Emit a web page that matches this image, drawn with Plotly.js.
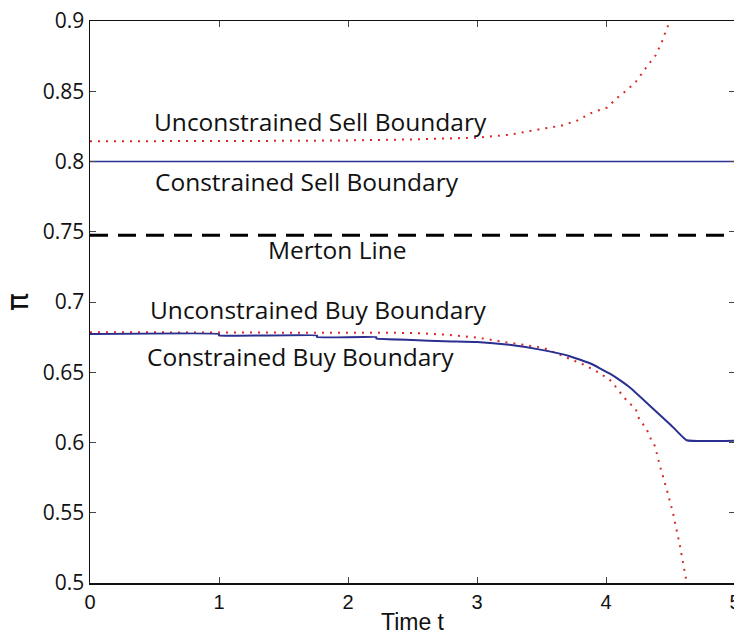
<!DOCTYPE html>
<html>
<head>
<meta charset="utf-8">
<script src="https://cdn.plot.ly/plotly-3.0.1.min.js"></script>
<style>
  html, body { margin: 0; padding: 0; overflow: hidden; background: #fff; }
  #chart { width: 750px; height: 637px; }
</style>
</head>
<body>
<div id="chart"></div>
<script>
// Time grid and boundary values (fraction of wealth in the risky asset, pi)
const sellUnconT = [0, 0.5, 1, 1.5, 2, 2.5, 3, 3.25, 3.5, 3.67, 3.78, 3.9, 4.01, 4.08, 4.16, 4.23, 4.32, 4.385, 4.43, 4.47, 4.5];
const sellUnconPi = [0.8144, 0.8144, 0.8145, 0.8147, 0.815, 0.8157, 0.817, 0.819, 0.8232, 0.8258, 0.8293, 0.8352, 0.8384, 0.8448, 0.8507, 0.8566, 0.868, 0.8756, 0.8843, 0.8946, 0.9];

const sellConT = [0, 5];
const sellConPi = [0.8, 0.8];

const mertonT = [0, 5];
const mertonPi = [0.7475, 0.7475];

const buyUnconT = [0, 1, 2, 2.25, 2.5, 2.75, 3, 3.25, 3.51, 3.67, 3.82, 3.95, 4.04, 4.1, 4.165, 4.23, 4.26, 4.31, 4.35, 4.38, 4.42, 4.47, 4.52, 4.57, 4.62, 4.635];
const buyUnconPi = [0.6785, 0.6785, 0.6783, 0.6782, 0.678, 0.6768, 0.6747, 0.671, 0.6675, 0.6614, 0.6557, 0.6495, 0.6438, 0.6367, 0.6293, 0.6241, 0.6158, 0.6106, 0.602, 0.5973, 0.5826, 0.567, 0.5496, 0.528, 0.503, 0.5];

const buyConT = [0, 1, 1, 1.76, 1.76, 2.22, 2.22, 2.5, 2.75, 3, 3.25, 3.49, 3.72, 3.88, 4.03, 4.11, 4.19, 4.34, 4.5, 4.625, 5];
const buyConPi = [0.6772, 0.6772, 0.6762, 0.6762, 0.675, 0.675, 0.674, 0.673, 0.672, 0.6715, 0.6695, 0.6661, 0.6614, 0.6562, 0.649, 0.6442, 0.6388, 0.6262, 0.6127, 0.6016, 0.6013];

const xTicks = [0, 1, 2, 3, 4, 5];
const yTicks = [0.5, 0.55, 0.6, 0.65, 0.7, 0.75, 0.8, 0.85, 0.9];

const labelText = ['Unconstrained Sell Boundary', 'Constrained Sell Boundary', 'Merton Line',
                   'Unconstrained Buy Boundary', 'Constrained Buy Boundary'];
const labelT = [1.785, 1.68, 1.915, 1.77, 1.63];
const labelPi = [0.8285, 0.7855, 0.7375, 0.6945, 0.661];

const blue = '#2b2f8f';
const red = '#d42a2a';

const traces = [
  { x: sellUnconT, y: sellUnconPi, mode: 'lines', line: { color: red, width: 2, dash: '2px,6px' } },
  { x: sellConT, y: sellConPi, mode: 'lines', line: { color: blue, width: 1.6 } },
  { x: mertonT, y: mertonPi, mode: 'lines', line: { color: '#000', width: 3.2, dash: '18px,10px' } },
  { x: buyUnconT, y: buyUnconPi, mode: 'lines', line: { color: red, width: 2, dash: '2px,6px' } },
  { x: buyConT, y: buyConPi, mode: 'lines', line: { color: blue, width: 2, shape: 'spline', smoothing: 0.3 } }
];

const annotations = labelText.map((t, i) => ({
  x: labelT[i], y: labelPi[i], xref: 'x', yref: 'y', text: t, showarrow: false,
  xanchor: 'center', yanchor: 'middle',
  font: { family: 'Open Sans, sans-serif', size: 24.5, color: '#111' }
}));

const layout = {
  width: 750, height: 637,
  margin: { l: 90, r: 15, t: 21, b: 54 },
  paper_bgcolor: '#fff', plot_bgcolor: '#fff',
  showlegend: false,
  xaxis: {
    range: [0, 5], tickvals: xTicks, ticktext: xTicks.map(String),
    showgrid: false, zeroline: false,
    showline: true, linecolor: '#111', linewidth: 1.5, mirror: 'ticks',
    ticks: 'inside', ticklen: 6, tickwidth: 1, tickcolor: '#444',
    tickfont: { family: 'Liberation Sans, Arial, sans-serif', size: 20, color: '#111' },
    title: { text: 'Time t', standoff: 2, font: { family: 'Liberation Sans, Arial, sans-serif', size: 23, color: '#111' } }
  },
  yaxis: {
    range: [0.5, 0.9], tickvals: yTicks, ticktext: yTicks.map(String),
    showgrid: false, zeroline: false,
    showline: true, linecolor: '#111', linewidth: 1.5, mirror: 'ticks',
    ticks: 'inside', ticklen: 6, tickwidth: 1, tickcolor: '#444',
    tickfont: { family: 'Open Sans, sans-serif', size: 21, color: '#111' },
    title: { text: 'π', standoff: 6, font: { family: 'DejaVu Sans, sans-serif', size: 30, color: '#111' } }
  },
  annotations: annotations
};

Plotly.newPlot('chart', traces, layout, { displayModeBar: false, staticPlot: true });
</script>
</body>
</html>
